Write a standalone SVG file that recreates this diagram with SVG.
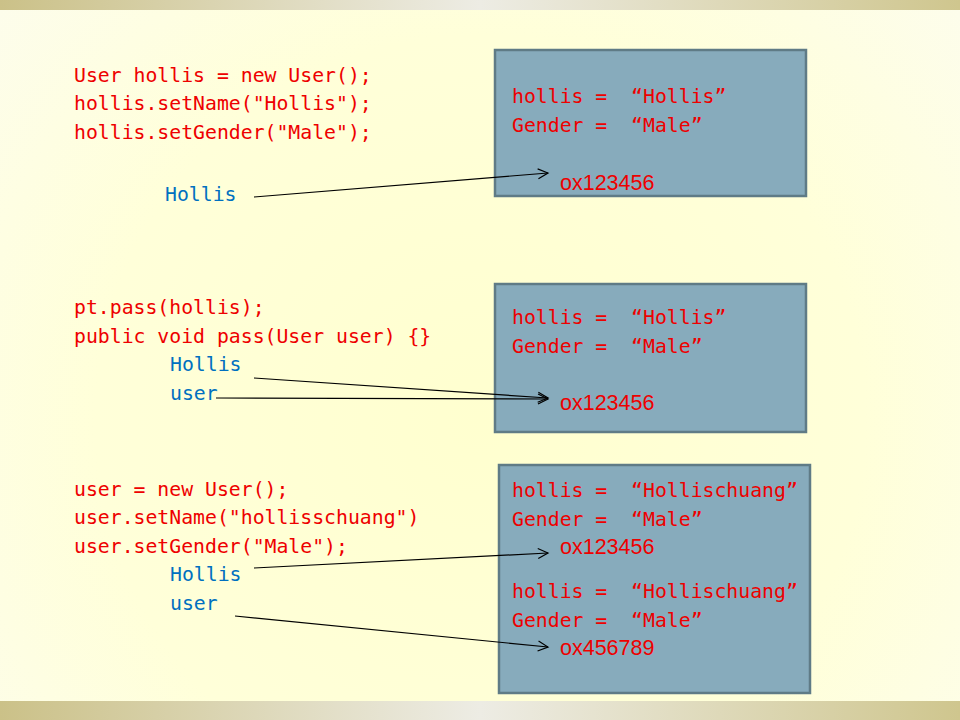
<svg xmlns="http://www.w3.org/2000/svg" width="960" height="720" viewBox="0 0 960 720">
<defs>
<radialGradient id="bg" cx="480" cy="420" r="640" gradientUnits="userSpaceOnUse">
<stop offset="0" stop-color="#ffffcf"/>
<stop offset="0.6" stop-color="#ffffd9"/>
<stop offset="1" stop-color="#fdfdec"/>
</radialGradient>
<linearGradient id="bar" x1="0" y1="0" x2="1" y2="0">
<stop offset="0" stop-color="#cbc188"/>
<stop offset="0.5" stop-color="#edece4"/>
<stop offset="1" stop-color="#cfc68e"/>
</linearGradient>
<marker id="arr" markerUnits="userSpaceOnUse" markerWidth="14" markerHeight="14" refX="11" refY="6" orient="auto">
<path d="M1,1 L11,6 L1,11" fill="none" stroke="#000" stroke-width="1.2"/>
</marker>
<style>
.code{font-family:"DejaVu Sans Mono","Liberation Mono",monospace;font-size:19.8px;fill:#ee0000;white-space:pre}
.var{font-family:"DejaVu Sans Mono","Liberation Mono",monospace;font-size:19.8px;fill:#0070c0;white-space:pre}
.addr{font-family:"Liberation Sans",Arial,sans-serif;font-size:21.5px;fill:#ee0000}
.box{fill:#87abbc;stroke:#5f7b86;stroke-width:2.5}
.link{stroke:#000;stroke-width:1.2;fill:none;marker-end:url(#arr)}
</style>
</defs>
<rect x="0" y="0" width="960" height="720" fill="url(#bg)"/>
<rect x="0" y="0" width="960" height="10" fill="url(#bar)"/>
<rect x="0" y="701" width="960" height="19" fill="url(#bar)"/>

<g id="code1">
<text class="code" x="74" y="82">User hollis = new User();</text>
<text class="code" x="74" y="110">hollis.setName("Hollis");</text>
<text class="code" x="74" y="139">hollis.setGender("Male");</text>
</g>
<g id="var1-hollis"><text class="var" x="165" y="201">Hollis</text></g>

<g id="obj1">
<rect class="box" x="495" y="50" width="311" height="146"/>
<text class="code" x="512" y="103" xml:space="preserve">hollis =  “Hollis”</text>
<text class="code" x="512" y="132" xml:space="preserve">Gender =  “Male”</text>
<text class="addr" x="560" y="190">ox123456</text>
</g>

<g id="code2">
<text class="code" x="74" y="314">pt.pass(hollis);</text>
<text class="code" x="74" y="343">public void pass(User user) {}</text>
</g>
<g id="var2-hollis"><text class="var" x="170" y="371">Hollis</text></g>
<g id="var2-user"><text class="var" x="170" y="400">user</text></g>

<g id="obj2">
<rect class="box" x="495" y="284" width="311" height="148"/>
<text class="code" x="512" y="324" xml:space="preserve">hollis =  “Hollis”</text>
<text class="code" x="512" y="353" xml:space="preserve">Gender =  “Male”</text>
<text class="addr" x="560" y="410">ox123456</text>
</g>

<g id="code3">
<text class="code" x="74" y="496">user = new User();</text>
<text class="code" x="74" y="524">user.setName("hollisschuang")</text>
<text class="code" x="74" y="553">user.setGender("Male");</text>
</g>
<g id="var3-hollis"><text class="var" x="170" y="581">Hollis</text></g>
<g id="var3-user"><text class="var" x="170" y="610">user</text></g>

<g id="obj3">
<rect class="box" x="499" y="465" width="311" height="228"/>
<text class="code" x="512" y="497" xml:space="preserve">hollis =  “Hollischuang”</text>
<text class="code" x="512" y="526" xml:space="preserve">Gender =  “Male”</text>
<text class="addr" x="560" y="554">ox123456</text>
<text class="code" x="512" y="598" xml:space="preserve">hollis =  “Hollischuang”</text>
<text class="code" x="512" y="627" xml:space="preserve">Gender =  “Male”</text>
<text class="addr" x="560" y="655">ox456789</text>
</g>

<g id="connectors">
<line class="link" x1="254" y1="197" x2="548" y2="173"/>
<line class="link" x1="254" y1="378" x2="548" y2="398"/>
<line class="link" x1="216" y1="398" x2="548" y2="399"/>
<line class="link" x1="254" y1="568" x2="548" y2="553"/>
<line class="link" x1="235" y1="616" x2="548" y2="647"/>
</g>
</svg>
